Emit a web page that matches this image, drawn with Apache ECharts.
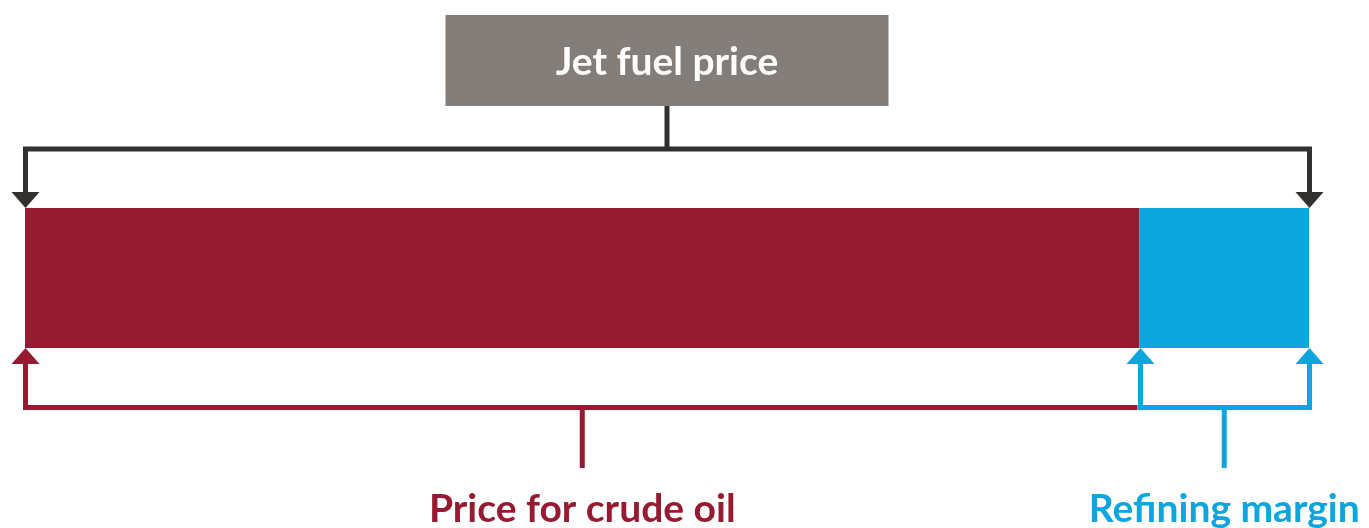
<!DOCTYPE html>
<html>
<head>
<meta charset="utf-8">
<title>Jet fuel price</title>
<script src="https://cdn.jsdelivr.net/npm/echarts@6/dist/echarts.min.js"></script>
<style>
  html, body { margin: 0; padding: 0; background: #fff; }
  #chart { width: 1369px; height: 528px; }
</style>
</head>
<body>
<div id="chart"></div>
<script>
// 数据
var categories = ['Jet fuel'];
var crudeShare = [86.8];   // 原油价格占比
var marginShare = [13.2];  // 炼油利润占比
var titleText = 'Jet fuel price';
var crudeLabel = 'Price for crude oil';
var marginLabel = 'Refining margin';

var crimson = '#961b31';
var blue = '#0ca5de';
var dark = '#33312f';
var boxGray = '#847e7a';

var chart = echarts.init(document.getElementById('chart'));

chart.setOption({
    animation: false,
    grid: { left: 25, right: 60, top: 208, bottom: 180 },
    xAxis: { type: 'value', min: 0, max: 100, show: false },
    yAxis: { type: 'category', data: categories, show: false },
    series: [
        {
            name: crudeLabel,
            type: 'bar',
            stack: 'price',
            barWidth: '100%',
            itemStyle: { color: crimson },
            data: crudeShare
        },
        {
            name: marginLabel,
            type: 'bar',
            stack: 'price',
            barWidth: '100%',
            itemStyle: { color: blue },
            data: marginShare
        }
    ]
});

// 括号和标签根据坐标轴位置计算
var x0 = chart.convertToPixel({ xAxisIndex: 0 }, 0);
var x1 = chart.convertToPixel({ xAxisIndex: 0 }, crudeShare[0]);
var x2 = chart.convertToPixel({ xAxisIndex: 0 }, crudeShare[0] + marginShare[0]);
var barTop = 208;
var barBot = 348;
var topLineY = 149;
var botLineY = 407.5;
var stemEnd = 468;
var lw = 5;
var ah = 16, aw = 14;

function arrowDown(x, color) {
    return {
        type: 'polygon',
        shape: { points: [[x - aw, barTop - ah], [x + aw, barTop - ah], [x, barTop]] },
        style: { fill: color }
    };
}
function arrowUp(x, color) {
    return {
        type: 'polygon',
        shape: { points: [[x - aw, barBot + ah], [x + aw, barBot + ah], [x, barBot]] },
        style: { fill: color }
    };
}
function line(points, color) {
    return {
        type: 'polyline',
        shape: { points: points },
        style: { stroke: color, lineWidth: lw, lineJoin: 'miter', fill: null }
    };
}

var xm = (x0 + x2) / 2;
var xc = (x0 + x1) / 2;
var xr = (x1 + x2) / 2;

chart.setOption({
    graphic: [
        // 顶部标题框
        {
            type: 'rect',
            shape: { x: xm - 221.5, y: 15, width: 443, height: 91 },
            style: { fill: boxGray }
        },
        {
            type: 'text',
            x: xm,
            y: 62,
            style: {
                text: titleText,
                fill: '#fff',
                font: 'bold 39px Lato',
                align: 'center',
                verticalAlign: 'middle'
            }
        },
        line([[xm, 106], [xm, topLineY]], dark),
        line([[x0 + 0.5, barTop - ah], [x0 + 0.5, topLineY], [x2 + 0.5, topLineY], [x2 + 0.5, barTop - ah]], dark),
        arrowDown(x0 + 0.5, dark),
        arrowDown(x2 + 0.5, dark),
        // 底部原油括号
        line([[x0 + 0.5, barBot + ah], [x0 + 0.5, botLineY], [x1 - 2, botLineY]], crimson),
        arrowUp(x0 + 0.5, crimson),
        line([[xc, botLineY], [xc, stemEnd]], crimson),
        {
            type: 'text',
            x: xc,
            y: 509,
            style: {
                text: crudeLabel,
                fill: crimson,
                font: 'bold 39px Lato',
                align: 'center',
                verticalAlign: 'middle'
            }
        },
        // 底部炼油利润括号
        line([[x1 + 1, barBot + ah], [x1 + 1, botLineY], [x2 + 0.5, botLineY], [x2 + 0.5, barBot + ah]], blue),
        arrowUp(x1 + 1, blue),
        arrowUp(x2 + 0.5, blue),
        line([[xr, botLineY], [xr, stemEnd]], blue),
        {
            type: 'text',
            x: xr,
            y: 509,
            style: {
                text: marginLabel,
                fill: blue,
                font: 'bold 39px Lato',
                align: 'center',
                verticalAlign: 'middle'
            }
        }
    ]
});
</script>
</body>
</html>
